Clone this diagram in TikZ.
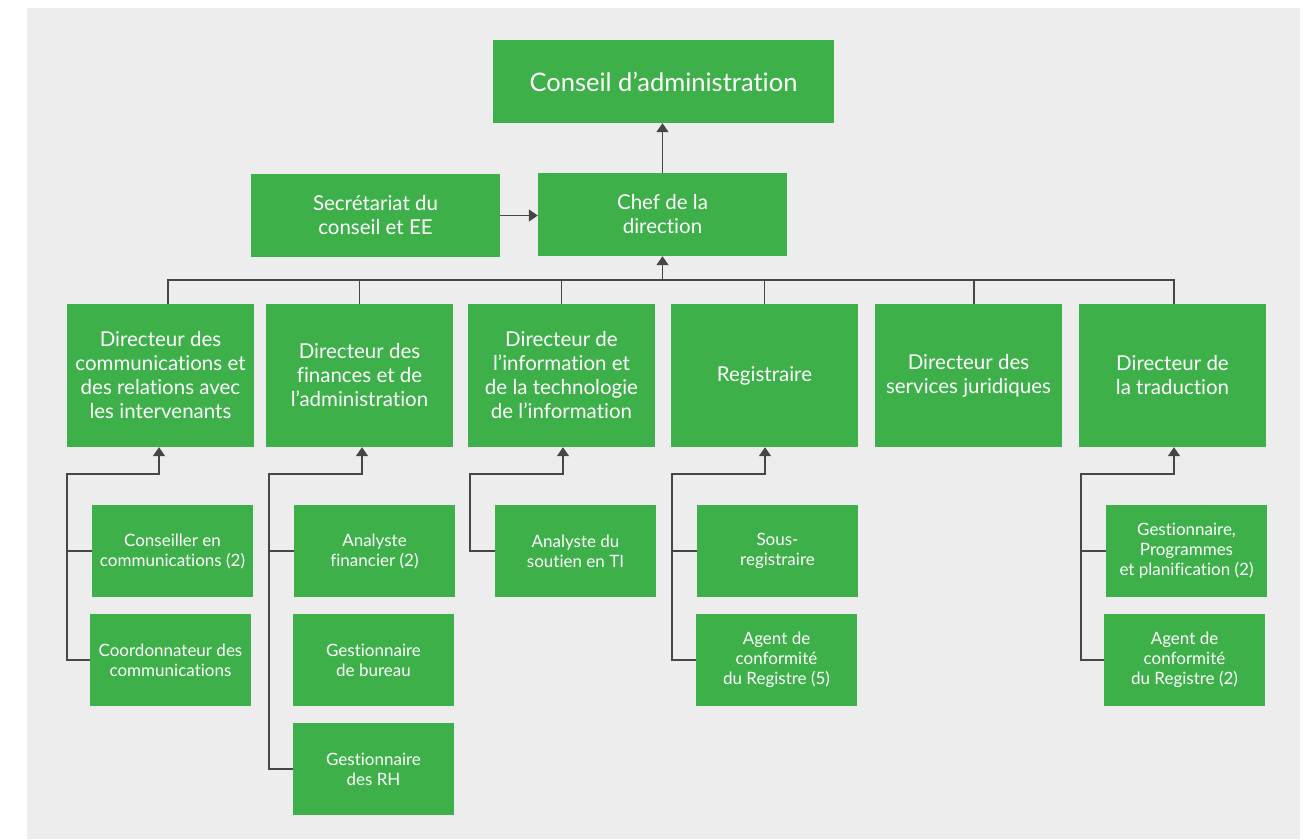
\documentclass[tikz,border=0pt]{standalone}
\usepackage{fontspec}
\setmainfont{Lato}[Ligatures=NoCommon]
\usetikzlibrary{arrows.meta}
\definecolor{boxgreen}{RGB}{61,176,74}
\definecolor{bggray}{RGB}{237,237,237}
\definecolor{linegray}{RGB}{70,70,72}
\tikzset{
  box/.style={fill=boxgreen, text=white, inner sep=0pt, align=center, anchor=center},
  topbox/.style={box, minimum width=341pt, minimum height=83pt, font=\fontsize{25.5}{30}\selectfont},
  midbox/.style={box, minimum width=249pt, minimum height=83pt, font=\fontsize{20.5}{24}\selectfont},
  dirbox/.style={box, minimum width=187pt, minimum height=143pt, font=\fontsize{20.5}{24}\selectfont},
  subbox/.style={box, minimum width=161pt, minimum height=92pt, font=\fontsize{17}{20}\selectfont},
  ln/.style={draw=linegray, line width=1.6pt},
  arr/.style={ln, -{Triangle[width=12pt,length=9pt]}},
}
\begin{document}
\begin{tikzpicture}[x=1pt,y=-1pt]
\useasboundingbox (0,0) rectangle (1307,839);
\fill[white] (0,0) rectangle (1307,839);
\fill[bggray] (27,8) rectangle (1300,839);

\node[topbox] (conseil) at (663.5,81.5) {Conseil d’administration};
\node[midbox] (chef) at (662.5,214.5) {Chef de la\\direction};
\node[midbox] (sec) at (375.5,215.5) {Secrétariat du\\conseil et EE};

\node[dirbox] (d1) at (160.5,375.5) {Directeur des\\communications et\\des relations avec\\les intervenants};
\node[dirbox] (d2) at (359.5,375.5) {Directeur des\\finances et de\\l’administration};
\node[dirbox] (d3) at (561.5,375.5) {Directeur de\\l’information et\\de la technologie\\de l’information};
\node[dirbox] (d4) at (764.5,375.5) {Registraire};
\node[dirbox] (d5) at (968.5,375.5) {Directeur des\\services juridiques};
\node[dirbox] (d6) at (1172.5,375.5) {Directeur de\\la traduction};

\node[subbox] (c1a) at (172.5,551) {Conseiller en\\communications (2)};
\node[subbox] (c1b) at (170.5,660) {Coordonnateur des\\communications};
\node[subbox] (c2a) at (374.5,551) {Analyste\\financier (2)};
\node[subbox] (c2b) at (373.5,660) {Gestionnaire\\de bureau};
\node[subbox] (c2c) at (373.5,769) {Gestionnaire\\des RH};
\node[subbox] (c3a) at (575.5,551) {Analyste du\\soutien en TI};
\node[subbox] (c4a) at (777.5,551) {Sous-\\registraire};
\node[subbox] (c4b) at (776.5,660) {Agent de\\conformité\\du Registre (5)};
\node[subbox] (c6a) at (1186.5,551) {Gestionnaire,\\Programmes\\et planification (2)};
\node[subbox] (c6b) at (1184.5,660) {Agent de\\conformité\\du Registre (2)};

% top connectors
\draw[arr] (chef.north) -- (chef.north |- conseil.south);
\draw[arr] (sec.east) -- (sec.east -| chef.west);
\coordinate (bus) at (662.5,280);
\draw[ln] ([xshift=7.5pt]d1.north) |- (bus);
\draw[ln] (d2.north) |- (bus);
\draw[ln] (d3.north) |- (bus);
\draw[ln] (d4.north) |- (bus);
\draw[ln] ([xshift=5.5pt]d5.north) |- (bus);
\draw[ln] ([xshift=1.5pt]d6.north) |- (bus);
\draw[arr] (bus) -- (chef.south);

% sub connectors
\coordinate (e1) at (67,474);
\draw[ln] (c1a.west) -- (c1a.west -| e1);
\draw[arr] (c1b.west) -| (e1) -| ([xshift=-1.5pt]d1.south);

\coordinate (e2) at (269,474);
\draw[ln] (c2a.west) -- (c2a.west -| e2);
\draw[arr] (c2c.west) -| (e2) -| ([xshift=2.5pt]d2.south);

\coordinate (e3) at (470,474);
\draw[arr] (c3a.west) -| (e3) -| ([xshift=1.5pt]d3.south);

\coordinate (e4) at (672,474);
\draw[ln] (c4a.west) -- (c4a.west -| e4);
\draw[arr] (c4b.west) -| (e4) -| ([xshift=0.5pt]d4.south);

\coordinate (e6) at (1081,474);
\draw[ln] (c6a.west) -- (c6a.west -| e6);
\draw[arr] (c6b.west) -| (e6) -| ([xshift=1.5pt]d6.south);
\end{tikzpicture}
\end{document}
